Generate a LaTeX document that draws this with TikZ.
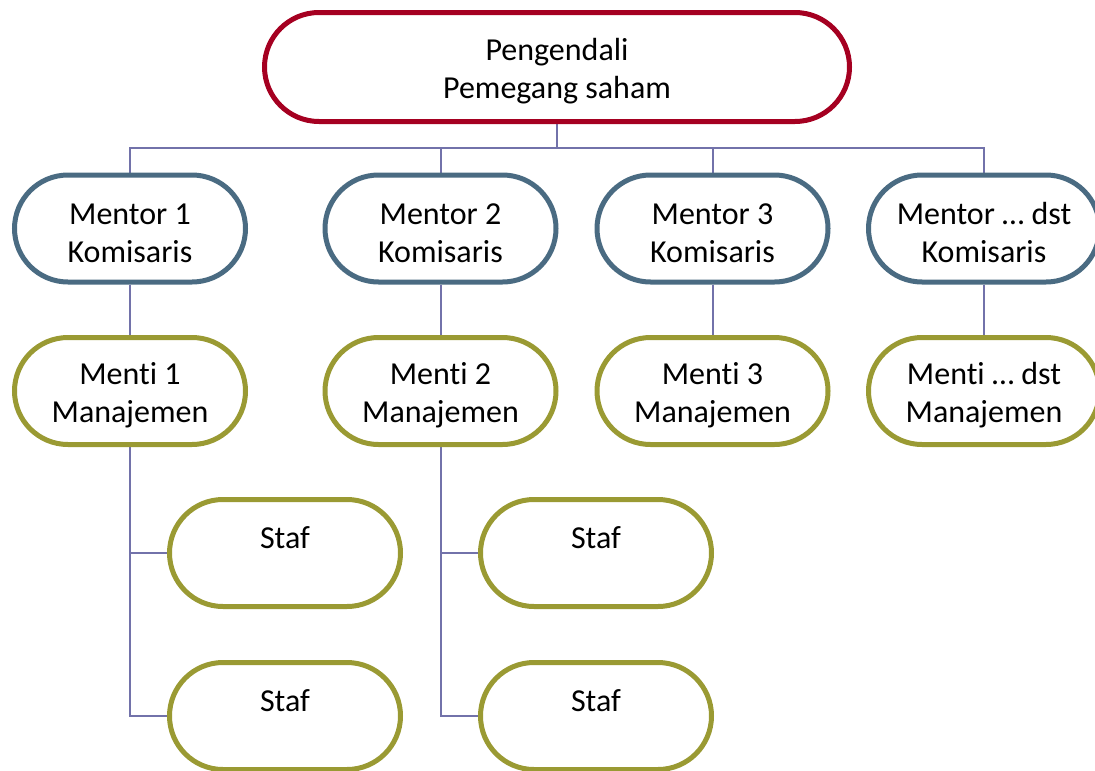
\documentclass[tikz,border=0pt]{standalone}
\usepackage{fontspec}
\setmainfont{Carlito}[Ligatures={NoCommon,NoContextual}]
\usetikzlibrary{backgrounds}
\definecolor{ownerred}{HTML}{A50021}
\definecolor{mentorblue}{HTML}{4A6B82}
\definecolor{olivebox}{HTML}{9A9A33}
\definecolor{linkline}{HTML}{7272AA}
% invisible rule that gives the first text line a fixed height
\newcommand{\fl}{\rule{0pt}{30pt}}
\tikzset{
  pill/.style={draw, line width=5pt, fill=white, inner sep=0pt, align=center,
    minimum width=231pt, minimum height=107pt, rounded corners=53.5pt,
    font=\fontsize{32}{38}\selectfont},
  owner/.style={pill, draw=ownerred, minimum width=585pt, minimum height=109pt, rounded corners=54.5pt},
  mentor/.style={pill, draw=mentorblue},
  mentee/.style={pill, draw=olivebox},
  staff/.style={pill, draw=olivebox, text height=10pt, text depth=20pt},
  link/.style={draw=linkline, line width=2pt},
}
\begin{document}
\begin{tikzpicture}[x=1pt, y=-1pt]
\useasboundingbox (0,0) rectangle (1095,771);
\clip (0,0) rectangle (1095,771);

% shareholder
\node[owner] (top) at (557,67) {\fl Pengendali\\Pemegang saham};

% commissioners
\node[mentor] (m1) at (130,228.5) {\fl Mentor 1\\Komisaris};
\node[mentor] (m2) at (440.5,228.5) {\fl Mentor 2\\Komisaris};
\node[mentor] (m3) at (712.5,228.5) {\fl Mentor 3\\Komisaris};
\node[mentor] (m4) at (984,228.5) {\fl Mentor \dots\ dst\\Komisaris};

% management
\node[mentee] (n1) at (130,391) {\fl Menti 1\\Manajemen};
\node[mentee] (n2) at (440.5,391) {\fl Menti 2\\Manajemen};
\node[mentee] (n3) at (712.5,391) {\fl Menti 3\\Manajemen};
\node[mentee] (n4) at (984,391) {\fl Menti \dots\ dst\\Manajemen};

% staff
\node[staff] (s11) at (285,553) {Staf};
\node[staff] (s12) at (285,716) {Staf};
\node[staff] (s21) at (596,553) {Staf};
\node[staff] (s22) at (596,716) {Staf};

\begin{scope}[on background layer]
  \coordinate (bar) at (557,148);
  \draw[link] (top.south) -- (bar);
  \foreach \m in {m1,m2,m3,m4} \draw[link] (\m.north) |- (bar);
  \draw[link] (m1.south) -- (n1.north);
  \draw[link] (m2.south) -- (n2.north);
  \draw[link] (m3.south) -- (n3.north);
  \draw[link] (m4.south) -- (n4.north);
  \draw[link] (n1.south) |- (s11.west);
  \draw[link] (n1.south) |- (s12.west);
  \draw[link] (n2.south) |- (s21.west);
  \draw[link] (n2.south) |- (s22.west);
\end{scope}
\end{tikzpicture}
\end{document}
